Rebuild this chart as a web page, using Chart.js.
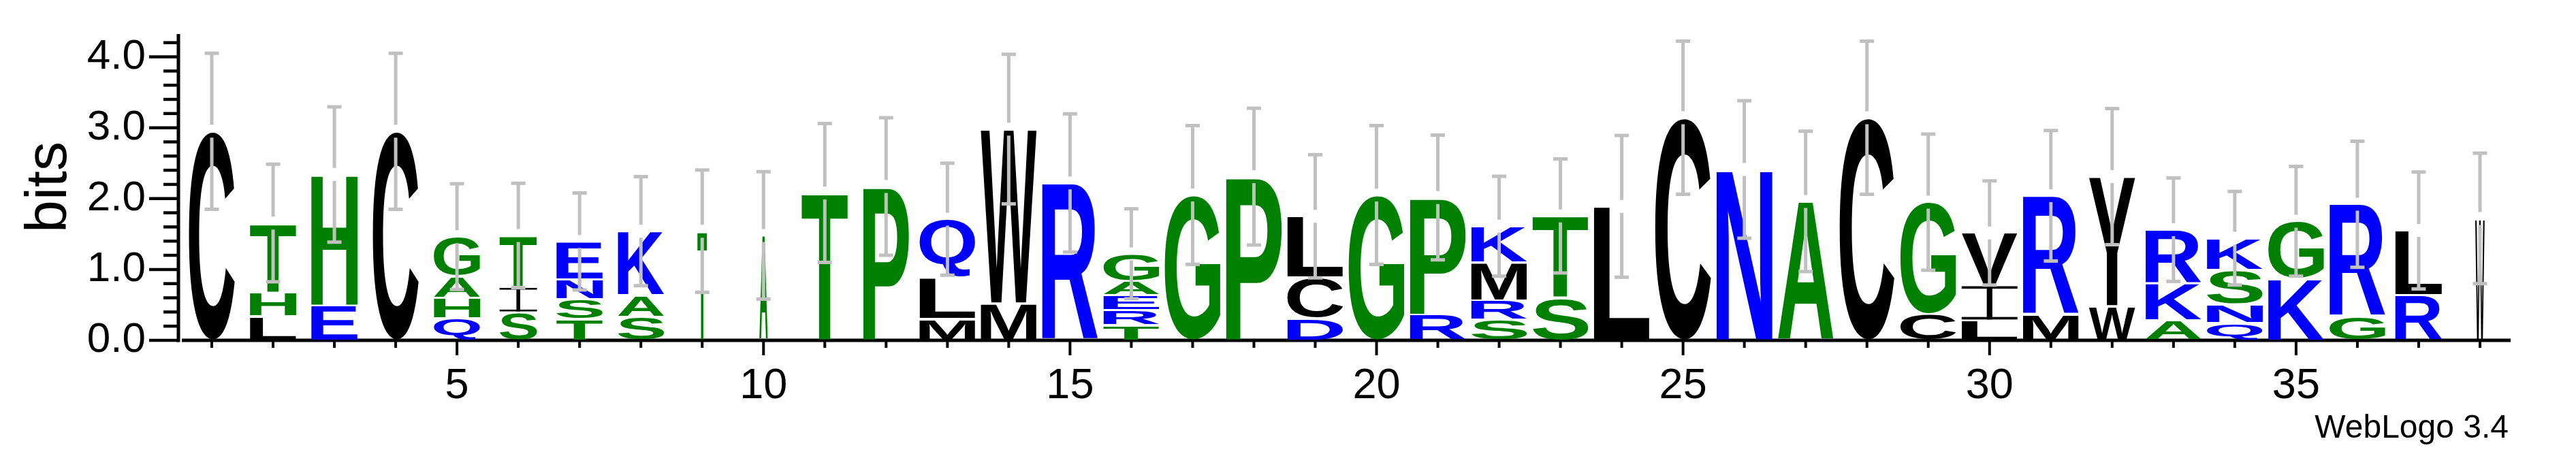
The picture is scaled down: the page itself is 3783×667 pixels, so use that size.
<!DOCTYPE html>
<html>
<head>
<title>WebLogo</title>
<script src="https://cdn.jsdelivr.net/npm/chart.js@4/dist/chart.umd.min.js"></script>
<style>
    body { margin: 0; background: #fff; }
    #wrap { width: 3783px; height: 667px; position: relative; }
</style>
</head>
<body>
<div id="wrap"><canvas id="logo"></canvas></div>
<script>
const positions = [1,2,3,4,5,6,7,8,9,10,11,12,13,14,15,16,17,18,19,20,21,22,23,24,25,26,27,28,29,30,31,32,33,34,35,36,37,38];
// letters of each column, bottom -> top
const stackLetters = ['C','LHT','EH','C','QHAG','SIT','TSNE','SAK','T','A','T','P','MLQ','MW','R','TREAG','G','P','DCL','G','RP','SRMK','ST','L','C','N','A','C','CG','LIV','MR','WY','AKR','QNSK','KG','GR','RL','W'];
// height (bits) of each letter, same order
const stackHeights = [
    [2.95], [0.34,0.34,0.975], [0.49,1.85], [2.95],
    [0.31,0.29,0.305,0.558], [0.394,0.36,0.726], [0.30,0.28,0.277,0.538], [0.33,0.304,0.906],
    [1.54], [1.48], [2.08], [2.17],
    [0.305,0.583,0.822], [0.52,2.46], [2.22], [0.216,0.209,0.209,0.206,0.38],
    [2.05], [2.31], [0.31,0.578,0.862], [2.05],
    [0.36,1.655], [0.29,0.275,0.532,0.513], [0.603,1.152], [1.89],
    [3.14], [2.41], [1.96], [3.14],
    [0.363,1.587], [0.28,0.498,0.737], [0.36,1.68], [0.483,1.827],
    [0.28,0.52,0.76], [0.243,0.261,0.486,0.45], [0.867,0.813], [0.336,1.584],
    [0.634,0.916], [1.72]
];
// error bar half length (bits)
const errorBars = [1.10,0.83,0.955,1.10,0.745,0.737,0.685,0.77,0.864,0.90,0.98,0.97,0.79,1.055,0.975,0.635,0.98,0.965,0.87,0.98,0.88,0.705,0.805,1.0,1.08,0.97,0.99,1.08,0.96,0.735,0.92,0.96,0.73,0.66,0.775,0.89,0.825,0.92];
// column width (fraction of non-gap symbols)
const columnWidth = [0.82,0.83,0.83,0.82,0.83,0.67,0.83,0.83,0.17,0.15,0.83,0.82,1,1,1,1,1,1,1,1,1,1,1,1,1,1,1,0.98,1,1,1,0.83,1,1,1,1,0.84,0.17];
const yTicks = [0, 1, 2, 3, 4];
const yMax = 4.3219;   // log2(20)

// hydrophobicity colour scheme
const letterColor = {};
'RKDENQ'.split('').forEach(c => letterColor[c] = '#0000ff');
'SGHTAP'.split('').forEach(c => letterColor[c] = '#008000');
'YVMCLFIW'.split('').forEach(c => letterColor[c] = '#000000');

// one dataset per stack level
const depth = Math.max(...stackHeights.map(h => h.length));
const datasets = [];
for (let k = 0; k < depth; k++) {
    datasets.push({
        label: 'level ' + k,
        data: stackHeights.map(h => (h[k] === undefined ? null : h[k])),
        backgroundColor: 'rgba(0,0,0,0)',
        borderWidth: 0
    });
}

// draw one letter stretched into the box
function drawGlyph(ctx, ch, x, y, w, h, color) {
    ctx.save();
    ctx.fillStyle = color;
    if (ch === 'I') {
        // serif I like weblogo
        const bar = Math.max(2.5, h * 0.075);
        const stem = Math.max(2, w * 0.1);
        ctx.fillRect(x, y, w, bar);
        ctx.fillRect(x, y + h - bar, w, bar);
        ctx.fillRect(x + w / 2 - stem / 2, y, stem, h);
    } else {
        ctx.font = 'bold 200px "Liberation Sans"';
        ctx.textAlign = 'left';
        ctx.textBaseline = 'alphabetic';
        const m = ctx.measureText(ch);
        const gw = m.actualBoundingBoxLeft + m.actualBoundingBoxRight;
        const gh = m.actualBoundingBoxAscent + m.actualBoundingBoxDescent;
        ctx.translate(x, y);
        ctx.scale(w / gw, h / gh);
        ctx.fillText(ch, m.actualBoundingBoxLeft, m.actualBoundingBoxAscent);
    }
    ctx.restore();
}

const logoPlugin = {
    id: 'logo',
    beforeDatasetsDraw(chart) {
        // axis lines and tick marks
        const ctx = chart.ctx, ys = chart.scales.y, xs = chart.scales.x, area = chart.chartArea;
        ctx.save();
        ctx.strokeStyle = '#000';
        const ax = area.left - 4;
        ctx.lineWidth = 5;
        ctx.beginPath();
        ctx.moveTo(ax, ys.getPixelForValue(yMax));
        ctx.lineTo(ax, ys.getPixelForValue(0) + 2.5);
        ctx.stroke();
        ctx.lineWidth = 4.5;
        for (let k = 0; k <= 21; k++) {
            const py = ys.getPixelForValue(k * 0.2);
            ctx.beginPath();
            ctx.moveTo(ax - (k % 5 === 0 ? 43 : 22), py);
            ctx.lineTo(ax, py);
            ctx.stroke();
        }
        ctx.lineWidth = 5;
        ctx.beginPath();
        ctx.moveTo(area.left + 1, area.bottom);
        ctx.lineTo(area.right, area.bottom);
        ctx.stroke();
        ctx.lineWidth = 4;
        positions.forEach((p, i) => {
            const px = xs.getPixelForValue(i);
            ctx.beginPath();
            ctx.moveTo(px, area.bottom);
            ctx.lineTo(px, area.bottom + (p % 5 === 0 ? 22 : 11));
            ctx.stroke();
        });
        ctx.restore();
    },
    afterDatasetsDraw(chart) {
        const ctx = chart.ctx, ys = chart.scales.y, xs = chart.scales.x;
        // letters
        for (let k = 0; k < depth; k++) {
            const meta = chart.getDatasetMeta(k);
            meta.data.forEach((bar, i) => {
                const v = stackHeights[i][k];
                if (!v) return;
                const p = bar.getProps(['x', 'y', 'base', 'width'], true);
                const w = p.width * columnWidth[i];
                const top = Math.min(p.y, p.base), bot = Math.max(p.y, p.base);
                drawGlyph(ctx, stackLetters[i][k], p.x - w / 2, top + 1.5, w, bot - top - 3, letterColor[stackLetters[i][k]]);
            });
        }
        // error bars
        ctx.save();
        ctx.strokeStyle = '#c0c0c0';
        ctx.lineWidth = 5;
        stackHeights.forEach((h, i) => {
            const total = h.reduce((a, b) => a + b, 0);
            const px = xs.getPixelForValue(i);
            const yt = ys.getPixelForValue(total + errorBars[i]);
            const yb = ys.getPixelForValue(total - errorBars[i]);
            const ym = ys.getPixelForValue(total);
            ctx.beginPath();
            ctx.moveTo(px, yt); ctx.lineTo(px, ym - 9.5);
            ctx.moveTo(px, ym + 9.5); ctx.lineTo(px, yb);
            ctx.moveTo(px - 10.5, yt); ctx.lineTo(px + 10.5, yt);
            ctx.moveTo(px - 10.5, yb); ctx.lineTo(px + 10.5, yb);
            ctx.stroke();
        });
        ctx.restore();
    },
    afterDraw(chart) {
        const ctx = chart.ctx;
        ctx.save();
        ctx.fillStyle = '#000';
        ctx.font = '48px "Liberation Sans"';
        ctx.textAlign = 'right';
        ctx.textBaseline = 'alphabetic';
        ctx.fillText('WebLogo 3.4', 3684, 643);
        ctx.restore();
    }
};

Chart.defaults.font.family = '"Liberation Sans", Arial, sans-serif';
Chart.defaults.color = '#000';

new Chart(document.getElementById('logo'), {
    type: 'bar',
    data: {
        labels: positions.map(String),
        datasets: datasets
    },
    options: {
        responsive: true,
        maintainAspectRatio: false,
        animation: false,
        devicePixelRatio: 1,
        layout: { padding: { top: 50, right: 96, left: 0, bottom: 0 } },
        plugins: { legend: { display: false }, tooltip: { enabled: false } },
        datasets: { bar: { categoryPercentage: 1, barPercentage: 0.91 } },
        scales: {
            x: {
                stacked: true,
                offset: true,
                grid: { display: false, drawTicks: false },
                border: { display: false },
                ticks: {
                    autoSkip: false,
                    maxRotation: 0,
                    padding: 30,
                    font: { size: 63 },
                    callback: function (value) {
                        const p = positions[value];
                        return p % 5 === 0 ? String(p) : '';
                    }
                },
                afterFit: function (scale) {
                    scale.height = 167;
                    scale.paddingLeft = 0;
                    scale.paddingRight = 0;
                }
            },
            y: {
                stacked: true,
                min: 0,
                max: yMax,
                grid: { display: false, drawTicks: false },
                border: { display: false },
                ticks: {
                    stepSize: 1,
                    includeBounds: false,
                    padding: 52,
                    font: { size: 62 },
                    callback: function (value) {
                        return yTicks.includes(value) ? value.toFixed(1) : '';
                    }
                },
                title: { display: true, text: 'bits', font: { size: 86 }, padding: { top: 22, bottom: 0 } },
                afterFit: function (scale) {
                    scale.width = 266;
                    scale.paddingTop = 0;
                    scale.paddingBottom = 0;
                }
            }
        }
    },
    plugins: [logoPlugin]
});
</script>
</body>
</html>
